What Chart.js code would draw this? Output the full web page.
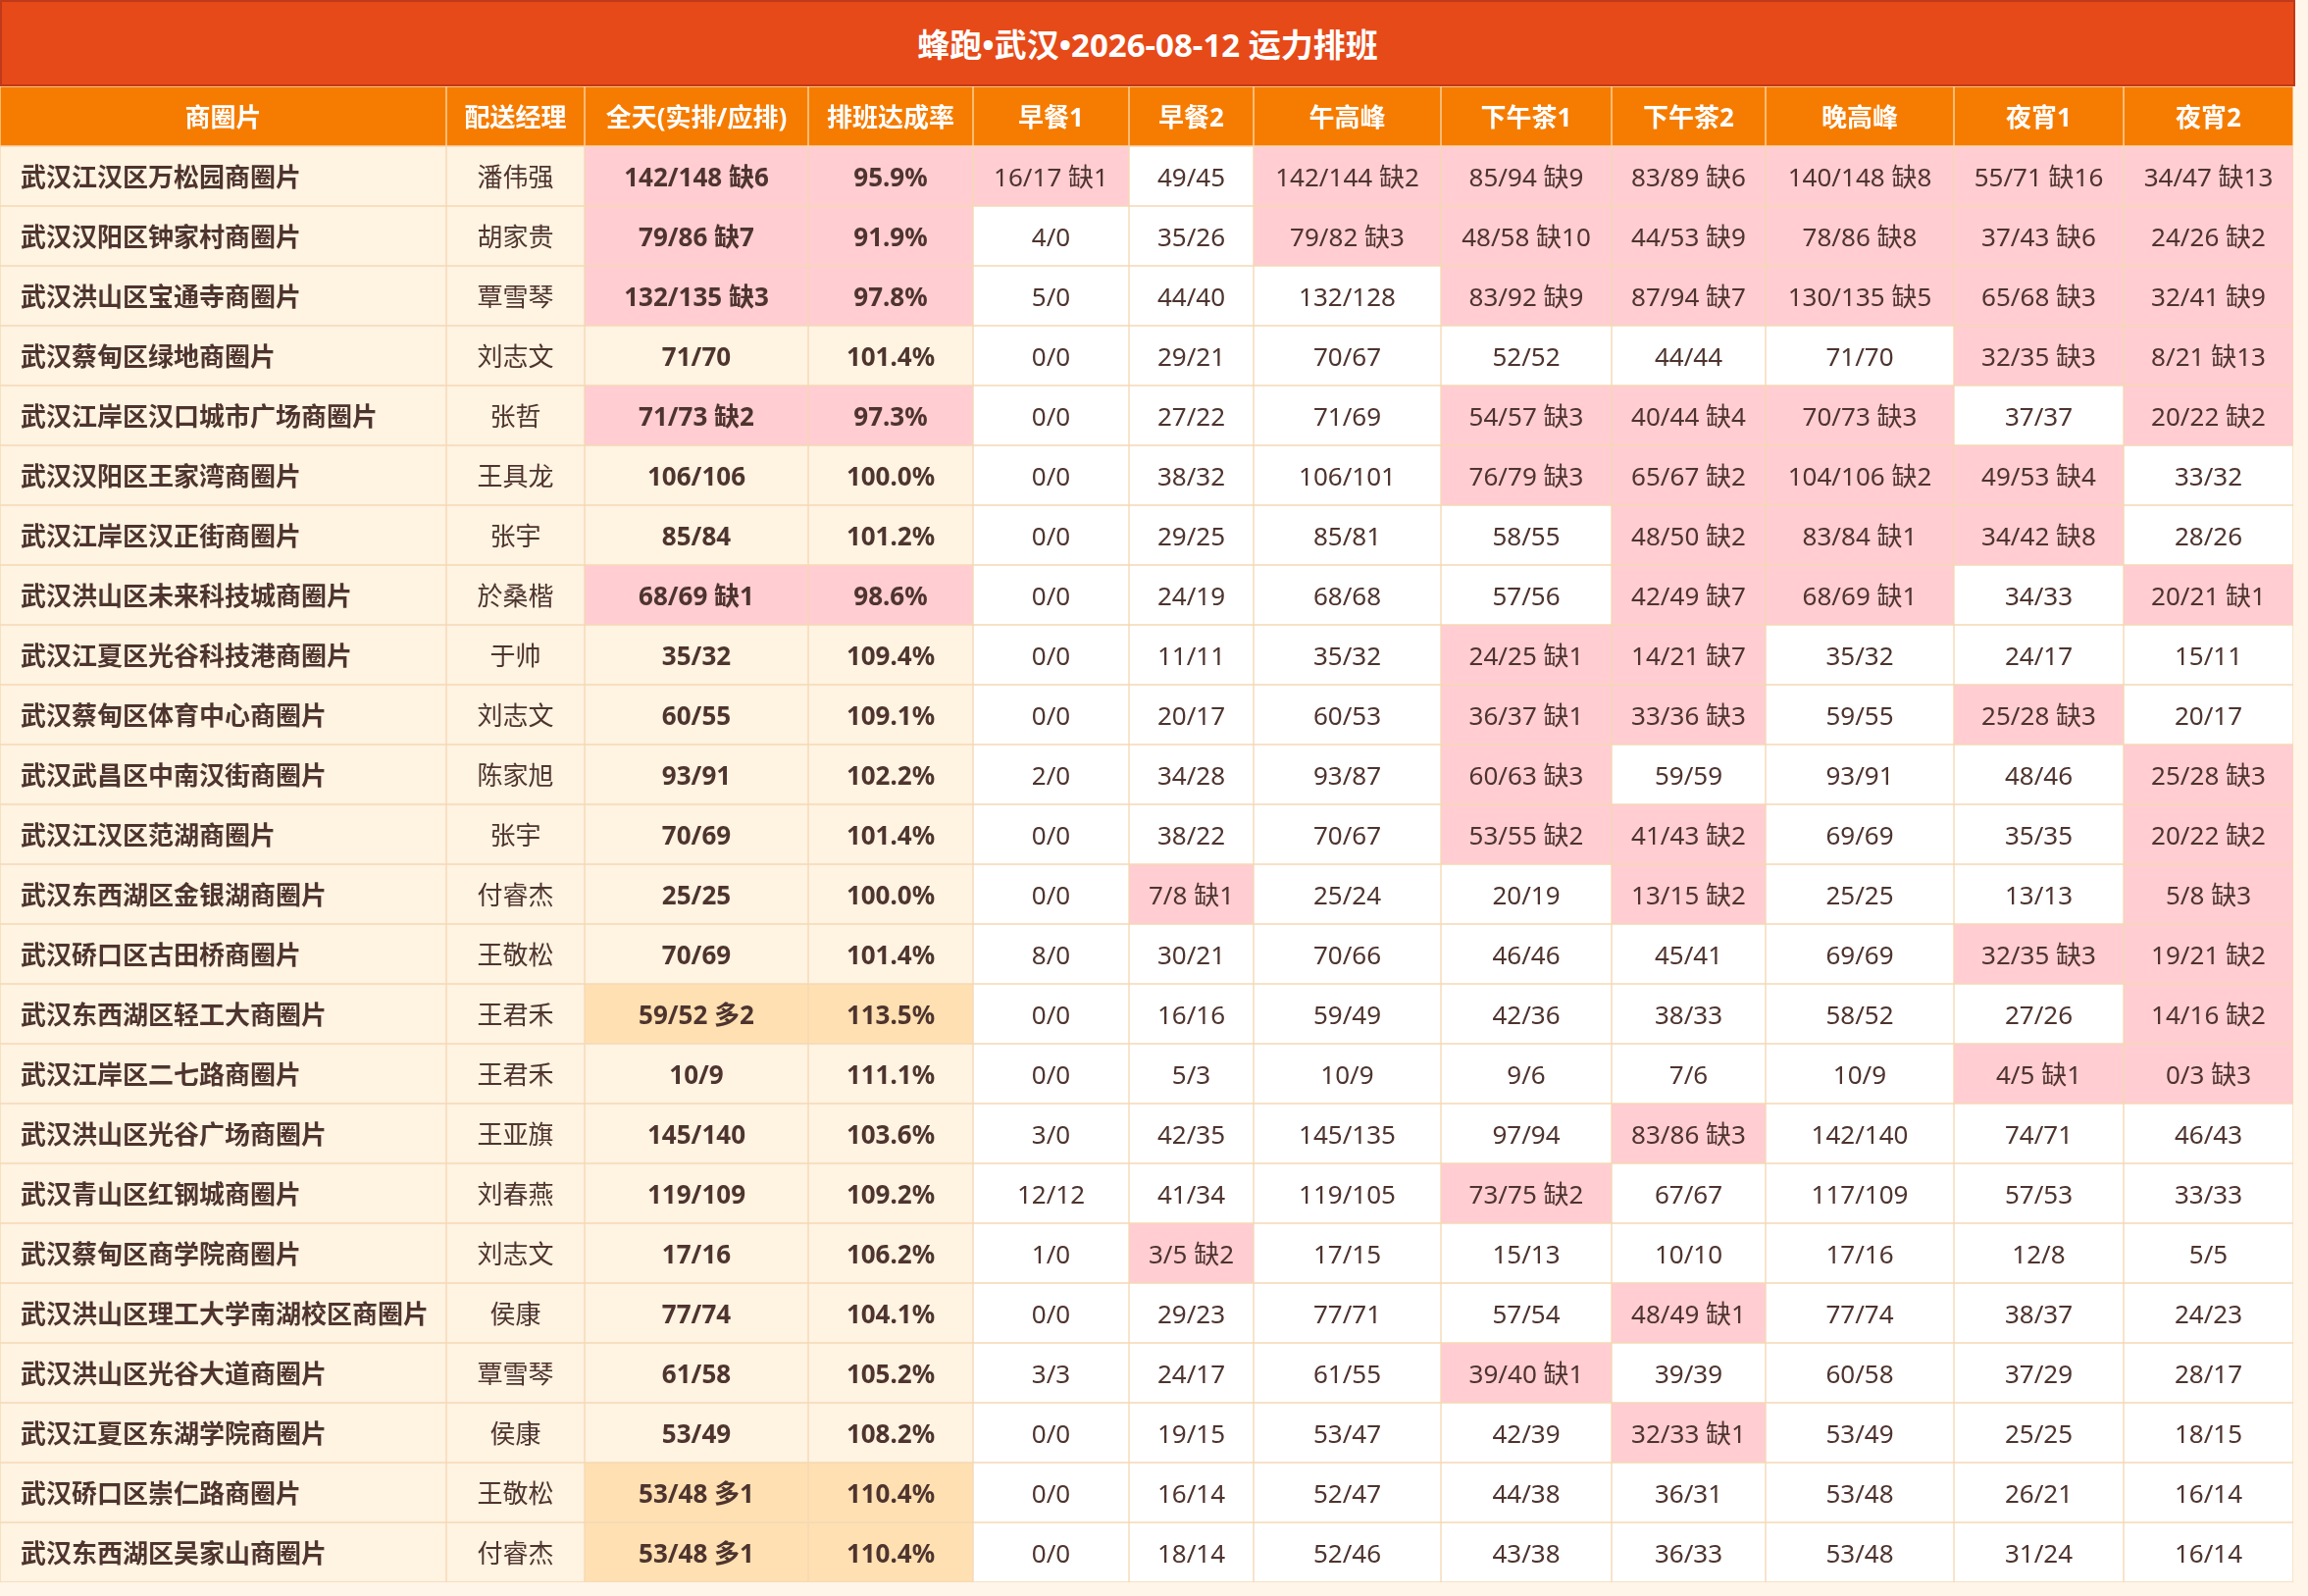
<!DOCTYPE html>
<html>
<head>
<meta charset="utf-8">
<script src="https://cdn.jsdelivr.net/npm/chart.js@4"></script>
<style>
  html, body { margin: 0; padding: 0; background: #FFF5E8; }
  #title {
    position: absolute; left: 0; top: 0; width: 2340px; height: 88px;
    box-sizing: border-box; border: 2px solid #C0391B; background: #E64A19;
    color: #fff; font: bold 33px "Noto Sans", "Noto Sans CJK SC", sans-serif;
    display: flex; align-items: center; justify-content: center;
  }
  #wrap { position: absolute; left: 0; top: 88px; }
</style>
</head>
<body>
<div id="title">蜂跑•武汉•2026-08-12 运力排班</div>
<div id="wrap"><canvas id="canvas" width="2353" height="1539"></canvas></div>
<script>
const headers = ['商圈片', '配送经理', '全天(实排/应排)', '排班达成率', '早餐1', '早餐2', '午高峰', '下午茶1', '下午茶2', '晚高峰', '夜宵1', '夜宵2']

const areas = ['武汉江汉区万松园商圈片', '武汉汉阳区钟家村商圈片', '武汉洪山区宝通寺商圈片', '武汉蔡甸区绿地商圈片',
  '武汉江岸区汉口城市广场商圈片', '武汉汉阳区王家湾商圈片', '武汉江岸区汉正街商圈片', '武汉洪山区未来科技城商圈片',
  '武汉江夏区光谷科技港商圈片', '武汉蔡甸区体育中心商圈片', '武汉武昌区中南汉街商圈片', '武汉江汉区范湖商圈片',
  '武汉东西湖区金银湖商圈片', '武汉硚口区古田桥商圈片', '武汉东西湖区轻工大商圈片', '武汉江岸区二七路商圈片',
  '武汉洪山区光谷广场商圈片', '武汉青山区红钢城商圈片', '武汉蔡甸区商学院商圈片', '武汉洪山区理工大学南湖校区商圈片',
  '武汉洪山区光谷大道商圈片', '武汉江夏区东湖学院商圈片', '武汉硚口区崇仁路商圈片', '武汉东西湖区吴家山商圈片']

const managers = ['潘伟强', '胡家贵', '覃雪琴', '刘志文', '张哲', '王具龙', '张宇', '於桑楷', '于帅', '刘志文', '陈家旭', '张宇',
  '付睿杰', '王敬松', '王君禾', '王君禾', '王亚旗', '刘春燕', '刘志文', '侯康', '覃雪琴', '侯康', '王敬松', '付睿杰']

const fullDay = ['142/148 缺6', '79/86 缺7', '132/135 缺3', '71/70', '71/73 缺2', '106/106', '85/84', '68/69 缺1',
  '35/32', '60/55', '93/91', '70/69', '25/25', '70/69', '59/52 多2', '10/9', '145/140', '119/109', '17/16', '77/74',
  '61/58', '53/49', '53/48 多1', '53/48 多1']

const rates = ['95.9%', '91.9%', '97.8%', '101.4%', '97.3%', '100.0%', '101.2%', '98.6%', '109.4%', '109.1%', '102.2%', '101.4%',
  '100.0%', '101.4%', '113.5%', '111.1%', '103.6%', '109.2%', '106.2%', '104.1%', '105.2%', '108.2%', '110.4%', '110.4%']

const breakfast1 = ['16/17 缺1', '4/0', '5/0', '0/0', '0/0', '0/0', '0/0', '0/0', '0/0', '0/0', '2/0', '0/0',
  '0/0', '8/0', '0/0', '0/0', '3/0', '12/12', '1/0', '0/0', '3/3', '0/0', '0/0', '0/0']

const breakfast2 = ['49/45', '35/26', '44/40', '29/21', '27/22', '38/32', '29/25', '24/19', '11/11', '20/17', '34/28', '38/22',
  '7/8 缺1', '30/21', '16/16', '5/3', '42/35', '41/34', '3/5 缺2', '29/23', '24/17', '19/15', '16/14', '18/14']

const lunchPeak = ['142/144 缺2', '79/82 缺3', '132/128', '70/67', '71/69', '106/101', '85/81', '68/68', '35/32', '60/53', '93/87', '70/67',
  '25/24', '70/66', '59/49', '10/9', '145/135', '119/105', '17/15', '77/71', '61/55', '53/47', '52/47', '52/46']

const tea1 = ['85/94 缺9', '48/58 缺10', '83/92 缺9', '52/52', '54/57 缺3', '76/79 缺3', '58/55', '57/56', '24/25 缺1', '36/37 缺1',
  '60/63 缺3', '53/55 缺2', '20/19', '46/46', '42/36', '9/6', '97/94', '73/75 缺2', '15/13', '57/54', '39/40 缺1', '42/39', '44/38', '43/38']

const tea2 = ['83/89 缺6', '44/53 缺9', '87/94 缺7', '44/44', '40/44 缺4', '65/67 缺2', '48/50 缺2', '42/49 缺7', '14/21 缺7', '33/36 缺3',
  '59/59', '41/43 缺2', '13/15 缺2', '45/41', '38/33', '7/6', '83/86 缺3', '67/67', '10/10', '48/49 缺1', '39/39', '32/33 缺1', '36/31', '36/33']

const dinnerPeak = ['140/148 缺8', '78/86 缺8', '130/135 缺5', '71/70', '70/73 缺3', '104/106 缺2', '83/84 缺1', '68/69 缺1', '35/32', '59/55',
  '93/91', '69/69', '25/25', '69/69', '58/52', '10/9', '142/140', '117/109', '17/16', '77/74', '60/58', '53/49', '53/48', '53/48']

const night1 = ['55/71 缺16', '37/43 缺6', '65/68 缺3', '32/35 缺3', '37/37', '49/53 缺4', '34/42 缺8', '34/33', '24/17', '25/28 缺3',
  '48/46', '35/35', '13/13', '32/35 缺3', '27/26', '4/5 缺1', '74/71', '57/53', '12/8', '38/37', '37/29', '25/25', '26/21', '31/24']

const night2 = ['34/47 缺13', '24/26 缺2', '32/41 缺9', '8/21 缺13', '20/22 缺2', '33/32', '28/26', '20/21 缺1', '15/11', '20/17',
  '25/28 缺3', '20/22 缺2', '5/8 缺3', '19/21 缺2', '14/16 缺2', '0/3 缺3', '46/43', '33/33', '5/5', '24/23', '28/17', '18/15', '16/14', '16/14']

const columns = [areas, managers, fullDay, rates, breakfast1, breakfast2, lunchPeak, tea1, tea2, dinnerPeak, night1, night2]

// layout: column widths in px
const colWidths = [455, 141, 228, 168, 159, 127, 191, 174, 157, 192, 173, 173]
const tableWidth = colWidths.reduce((a, b) => a + b, 0)

const FONT = '"Noto Sans", "Noto Sans CJK SC", sans-serif'
const TEXT = '#4E342E'

function cellText(row, col) {
  if (row === 0) return headers[col]
  return columns[col][row - 1]
}

function cellColor(row, col) {
  if (row === 0) return '#F57C00'
  if (col < 2) return '#FFF3E2'
  if (col < 4) {
    const t = fullDay[row - 1]
    if (t.includes('缺')) return '#FFCDD2'
    if (t.includes('多')) return '#FFE0B2'
    return '#FFF3E2'
  }
  return cellText(row, col).includes('缺') ? '#FFCDD2' : '#FFFFFF'
}

const rowLabels = ['header'].concat(areas)

const datasets = colWidths.map((w, c) => ({
  label: headers[c],
  data: rowLabels.map(() => w),
  backgroundColor: ctx => cellColor(ctx.dataIndex, c),
  borderColor: ctx => ctx.dataIndex === 0 ? '#FFD8A6' : '#F5D8B5',
  borderWidth: 1,
  borderSkipped: false,
  barPercentage: 1,
  categoryPercentage: 1,
}))

const cellText_plugin = {
  id: 'cellText',
  afterDatasetsDraw(chart) {
    const ctx = chart.ctx
    ctx.save()
    ctx.textBaseline = 'middle'
    chart.data.datasets.forEach((ds, c) => {
      chart.getDatasetMeta(c).data.forEach((el, r) => {
        const left = Math.min(el.x, el.base)
        const right = Math.max(el.x, el.base)
        const bold = r === 0 || c === 0 || c === 2 || c === 3
        ctx.font = (bold ? 'bold ' : '') + '26px ' + FONT
        ctx.fillStyle = r === 0 ? '#FFFFFF' : TEXT
        if (c === 0 && r > 0) {
          ctx.textAlign = 'left'
          ctx.fillText(cellText(r, c), left + 21, el.y + 3)
        } else {
          ctx.textAlign = 'center'
          ctx.fillText(cellText(r, c), (left + right) / 2, el.y + 3)
        }
      })
    })
    ctx.restore()
  }
}

const config = {
  type: 'bar',
  data: { labels: rowLabels, datasets: datasets },
  options: {
    indexAxis: 'y',
    responsive: false,
    animation: false,
    events: [],
    layout: { padding: { left: 0, top: 0, right: 2353 - tableWidth, bottom: 1539 - 61 * rowLabels.length } },
    scales: {
      x: { stacked: true, min: 0, max: tableWidth, display: false },
      y: { stacked: true, display: false },
    },
    plugins: { legend: { display: false }, tooltip: { enabled: false } },
  },
  plugins: [cellText_plugin],
}

const canvas = document.getElementById('canvas')
const chart = new Chart(canvas, config)
</script>
</body>
</html>
